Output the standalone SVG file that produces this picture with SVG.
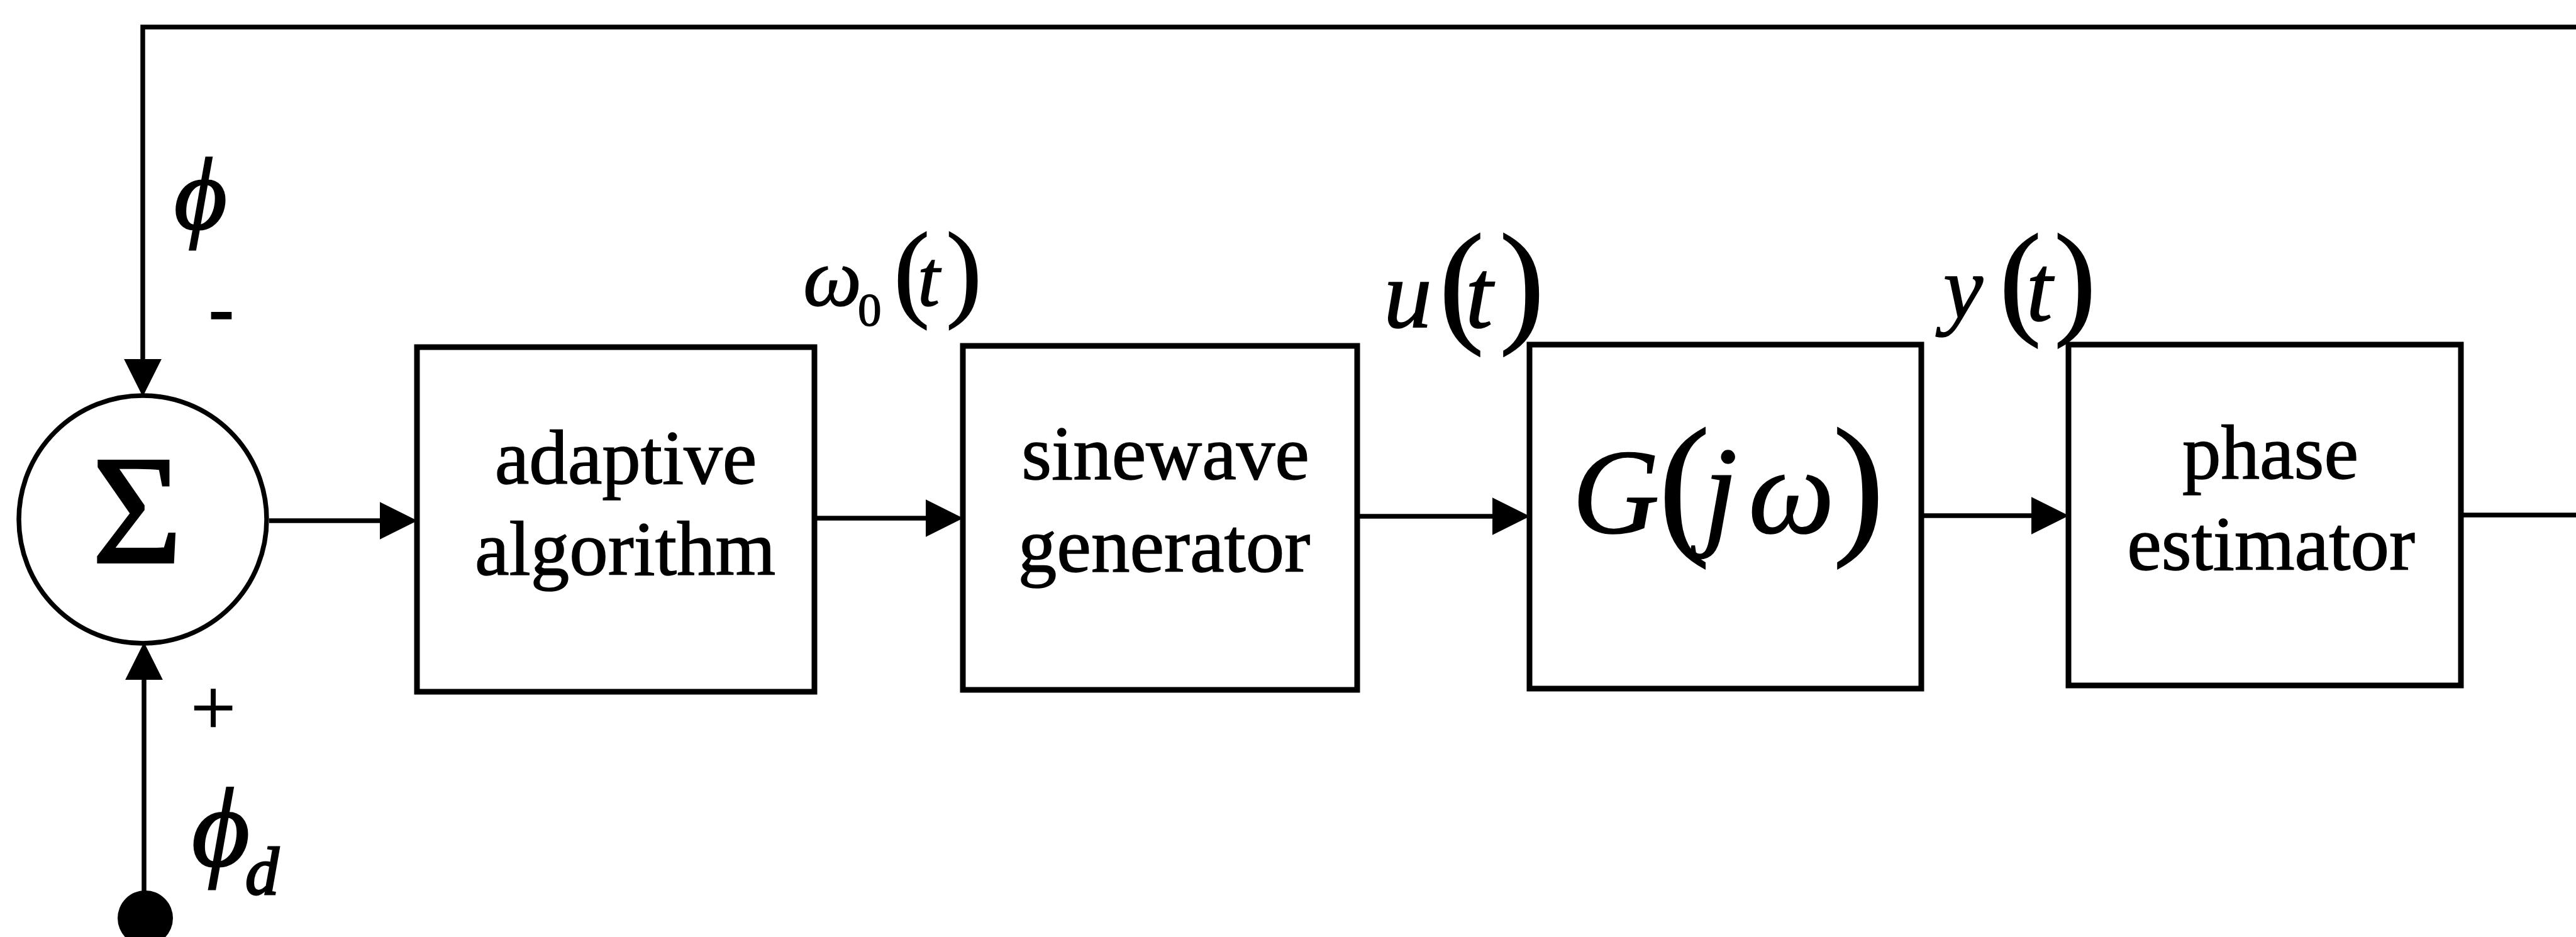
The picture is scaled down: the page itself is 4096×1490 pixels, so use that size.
<svg xmlns="http://www.w3.org/2000/svg" width="4096" height="1490" viewBox="0 0 4096 1490">
<style>
.box{fill:#fff;stroke:#000;stroke-width:9}
.wire{fill:none;stroke:#000;stroke-width:7.5}
.lbl{font-family:"Liberation Serif","DejaVu Serif",serif;fill:#000;stroke:#000;stroke-width:1.5}
.it{font-style:italic}
.blk{font-family:"Liberation Serif","DejaVu Serif",serif;font-size:123px;text-anchor:middle;fill:#000;stroke:#000;stroke-width:1.5}
</style>
<defs>
<marker id="ah" markerUnits="userSpaceOnUse" markerWidth="60" markerHeight="60" viewBox="0 0 58 58" refX="38" refY="29" orient="auto">
<path d="M0,0 L58,29 L0,58 z" fill="#000"/>
</marker>
</defs>
<rect width="4096" height="1490" fill="#fff"/>
<g id="connectors">
<path class="wire" d="M4096,43 H227 V610" marker-end="url(#ah)"/>
<path class="wire" d="M229,1460 V1042" marker-end="url(#ah)"/>
<path class="wire" d="M428,828 H643" marker-end="url(#ah)"/>
<path class="wire" d="M1295,824 H1511" marker-end="url(#ah)"/>
<path class="wire" d="M2158,821 H2412" marker-end="url(#ah)"/>
<path class="wire" d="M3055,820 H3269" marker-end="url(#ah)"/>
<path class="wire" d="M3913,819 H4096"/>
</g>
<g id="sum">
<circle cx="227" cy="826" r="197" fill="#fff" stroke="#000" stroke-width="7.5"/>
<text class="lbl" x="218" y="894" font-size="245" text-anchor="middle" style="stroke-width:4">Σ</text>
</g>
<g id="input">
<circle cx="231" cy="1460" r="44" fill="#000"/>
</g>
<g id="adaptive">
<rect class="box" x="663" y="552" width="632" height="548"/>
<text class="blk" x="995" y="769">adaptive</text>
<text class="blk" x="994" y="914">algorithm</text>
</g>
<g id="sinewave">
<rect class="box" x="1531" y="550" width="627" height="547"/>
<text class="blk" x="1853" y="762">sinewave</text>
<text class="blk" x="1851" y="909">generator</text>
</g>
<g id="plant">
<rect class="box" x="2432" y="548" width="623" height="547"/>
<text class="lbl"><tspan class="it" x="2500" y="847" font-size="192">G</tspan><tspan x="2637" y="852" font-size="247">(</tspan><tspan class="it" x="2708" y="847" font-size="198">j</tspan><tspan class="it" x="2780" y="847" font-size="194">ω</tspan><tspan x="2914" y="852" font-size="247">)</tspan></text>
</g>
<g id="phase">
<rect class="box" x="3289" y="548" width="624" height="542"/>
<text class="blk" x="3610" y="761">phase</text>
<text class="blk" x="3611" y="906">estimator</text>
</g>
<g id="labels">
<text class="lbl it" x="277" y="363" font-size="162" style="stroke-width:3">ϕ</text>
<text class="lbl" x="352" y="530" font-size="120" font-weight="bold" text-anchor="middle">-</text>
<text class="lbl" x="339" y="1168" font-size="127" text-anchor="middle">+</text>
<text class="lbl it" style="stroke-width:3"><tspan x="305" y="1376" font-size="178">ϕ</tspan><tspan x="390" y="1422" font-size="107">d</tspan></text>
<text class="lbl"><tspan class="it" x="1277" y="486" font-size="132">ω</tspan><tspan x="1364" y="518" font-size="75">0</tspan><tspan x="1421" y="488" font-size="172">(</tspan><tspan class="it" x="1459" y="486" font-size="127">t</tspan><tspan x="1504" y="488" font-size="172">)</tspan></text>
<text class="lbl"><tspan class="it" x="2200" y="520" font-size="154">u</tspan><tspan x="2288" y="521" font-size="216">(</tspan><tspan class="it" x="2330" y="520" font-size="157">t</tspan><tspan x="2384" y="521" font-size="216">)</tspan></text>
<text class="lbl"><tspan class="it" x="3090" y="506" font-size="142">y</tspan><tspan x="3179" y="511" font-size="201">(</tspan><tspan class="it" x="3222" y="510" font-size="150">t</tspan><tspan x="3266" y="511" font-size="201">)</tspan></text>
</g>
</svg>
